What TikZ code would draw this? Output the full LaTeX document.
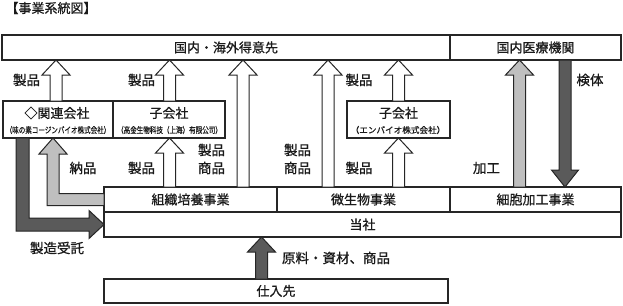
\documentclass[tikz,border=0pt]{standalone}
\usepackage{fontspec}
\setmainfont{Noto Sans CJK JP}[UprightFeatures={FakeBold=0.7}]
\usetikzlibrary{calc}
\definecolor{lgray}{HTML}{BFBFBF}
\definecolor{dgray}{HTML}{5A5A5A}
\definecolor{lnc}{HTML}{262626}
\definecolor{txt}{HTML}{1A1A1A}
\tikzset{
  box/.style={draw=lnc, line width=1.1pt, inner sep=0pt, outer sep=0pt, anchor=north west,
    text=txt, font=\fontsize{13}{15}\selectfont},
  lbl/.style={inner sep=0pt, text=txt, font=\fontsize{13.5}{18}\selectfont},
  sub/.style={inner sep=0pt, text=txt, font=\fontsize{8.5}{9}\selectfont},
  blk/.style={draw=lnc, line width=1pt, fill=white, line join=miter},
}
% up block arrow: [style] x-centre, bottom anchor, top anchor (tip)
\newcommand\blkup[4][]{%
  \draw[blk,#1] let \p1=(#3), \p2=(#4) in
   (#2pt-6pt,\y1) -- (#2pt-6pt,\y2-15pt) -- (#2pt-14pt,\y2-15pt) -- (#2pt,\y2)
   -- (#2pt+14pt,\y2-15pt) -- (#2pt+6pt,\y2-15pt) -- (#2pt+6pt,\y1) -- cycle;}
% down block arrow: [style] x-centre, top anchor, bottom anchor (tip)
\newcommand\blkdown[4][]{%
  \draw[blk,#1] let \p1=(#3), \p2=(#4) in
   (#2pt-6pt,\y1) -- (#2pt-6pt,\y2+17pt) -- (#2pt-13.5pt,\y2+17pt) -- (#2pt,\y2)
   -- (#2pt+13.5pt,\y2+17pt) -- (#2pt+6pt,\y2+17pt) -- (#2pt+6pt,\y1) -- cycle;}
\begin{document}
\begin{tikzpicture}[x=1pt,y=-1pt]
\path[use as bounding box, fill=white] (0,0) rectangle (623,305);

\node[lbl, font=\fontsize{13}{15}\selectfont] (title) at (51,8) {【事業系統図】};

% boxes
\node[box, minimum width=448pt, minimum height=25pt] (tokui) at (2,35) {国内・海外得意先};
\node[box, minimum width=171pt, minimum height=25pt] (iryo) at (450,35) {国内医療機関};
\node[box, minimum width=110pt, minimum height=37pt] (kanren) at (3,101) {};
\node[box, minimum width=112pt, minimum height=37pt] (kog1) at (113,101) {};
\node[box, minimum width=103pt, minimum height=37pt] (kog2) at (347,101) {};
\node[box, minimum width=173pt, minimum height=25pt] (soshiki) at (104,187) {組織培養事業};
\node[box, minimum width=173pt, minimum height=25pt] (bisei) at (277,187) {微生物事業};
\node[box, minimum width=171pt, minimum height=25pt] (saibou) at (450,187) {細胞加工事業};
\node[box, minimum width=517pt, minimum height=25pt] (tosha) at (104,212) {当社};
\node[box, minimum width=344pt, minimum height=24pt] (shiire) at (104,279) {仕入先};

% box titles
\node[lbl, font=\fontsize{13}{15}\selectfont] (kanrenT) at (57,113) {◇関連会社};
\node[sub] (kanrenS) at (58,130) {\scalebox{0.77}[1]{（味の素コージンバイオ株式会社）}};
\node[lbl, font=\fontsize{13}{15}\selectfont] (kog1T) at (169,113) {子会社};
\node[sub] (kog1S) at (169.5,130) {\scalebox{0.77}[1]{（高金生物科技（上海）有限公司）}};
\node[lbl, font=\fontsize{13}{15}\selectfont] (kog2T) at (398.5,113) {子会社};
\node[sub, font=\fontsize{8.6}{10}\selectfont] (kog2S) at (398,130) {（エンバイオ株式会社）};

% white arrows
\blkup{56}{kanren.north}{tokui.south}
\blkup{169.5}{kog1.north}{tokui.south}
\blkup{243}{soshiki.north}{tokui.south}
\blkup{328}{bisei.north}{tokui.south}
\blkup{398.5}{kog2.north}{tokui.south}
\blkup{169.5}{soshiki.north}{kog1.south}
\blkup{398.5}{bisei.north}{kog2.south}
% grey / dark arrows
\blkup[fill=lgray]{519.5}{saibou.north}{iryo.south}
\blkdown[fill=dgray]{565}{iryo.south}{saibou.north}
\blkup[fill=dgray]{261.5}{shiire.north}{tosha.south}

% bent grey arrow
\draw[blk, fill=lgray] let \p1=(soshiki.west), \p2=(kanren.south) in
  (\x1,\y1+6pt) -- (59pt,\y1+6pt) -- (59pt,\y2-16pt) -- (67pt,\y2-16pt) -- (53pt,\y2)
  -- (39pt,\y2-16pt) -- (47pt,\y2-16pt) -- (47pt,\y1-6pt) -- (\x1,\y1-6pt) -- cycle;
% bent dark arrow
\draw[blk, fill=dgray] let \p1=(tosha.west), \p2=(kanren.south) in
  (16pt,\y2) -- (16pt,\y1-6.5pt) -- (89pt,\y1-6.5pt) -- (89pt,\y1-14pt) -- (\x1,\y1)
  -- (89pt,\y1+14pt) -- (89pt,\y1+6.5pt) -- (29pt,\y1+6.5pt) -- (29pt,\y2) -- cycle;

% labels
\node[lbl] (l1) at (26.5,80) {製品};
\node[lbl] (l2) at (141.5,80) {製品};
\node[lbl] (l3) at (359,80) {製品};
\node[lbl] (l4) at (590,80) {検体};
\node[lbl, align=center] (l5) at (211.5,159) {製品\\商品};
\node[lbl, align=center] (l6) at (297.5,159) {製品\\商品};
\node[lbl] (l7) at (83,168) {納品};
\node[lbl] (l8) at (141.5,168) {製品};
\node[lbl] (l9) at (359,168) {製品};
\node[lbl] (l10) at (486.5,168) {加工};
\node[lbl] (l11) at (57,248) {製造受託};
\node[lbl] (l12) at (336,258) {原料・資材、商品};
\end{tikzpicture}
\end{document}
